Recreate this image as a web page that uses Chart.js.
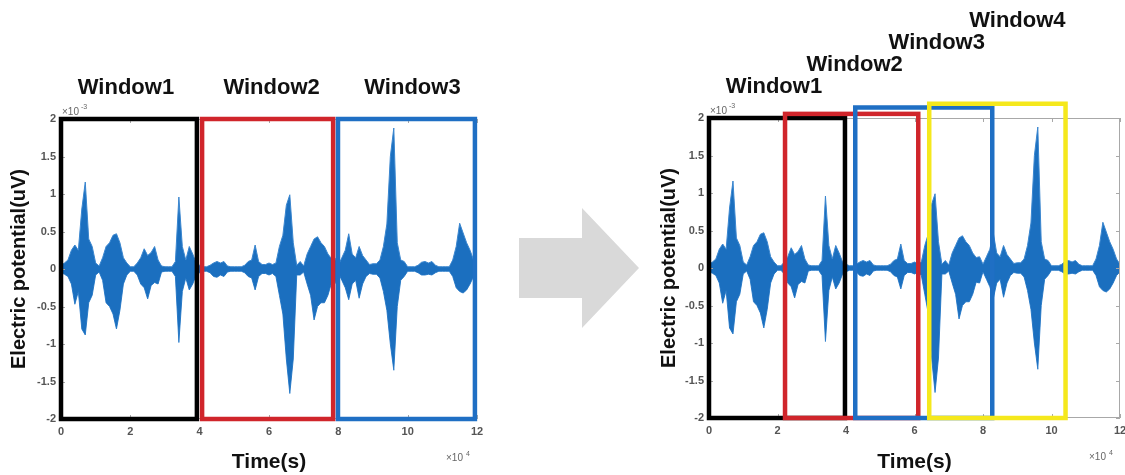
<!DOCTYPE html>
<html lang="en">
<head>
<meta charset="UTF-8">
<title>Signal windows</title>
<script src="https://cdn.jsdelivr.net/npm/chart.js"></script>
<style>
  body { margin: 0; background: #fff; width: 1125px; height: 475px; overflow: hidden; position: relative; }
  .panel { position: absolute; top: 0; }
  #leftPanel { left: 0; }
  #rightPanel { left: 650px; }
  .arrow {
    position: absolute; left: 519px; top: 208px; width: 120px; height: 120px;
    background: #d9d9d9;
    clip-path: polygon(0px 30px, 63px 30px, 63px 0px, 120px 60px, 63px 120px, 63px 90px, 0px 90px);
  }
</style>
</head>
<body>

<div class="panel" id="leftPanel"><canvas id="leftChart" width="500" height="475"></canvas></div>
<div class="arrow"></div>
<div class="panel" id="rightPanel"><canvas id="rightChart" width="475" height="475"></canvas></div>

<script>
// time axis (x 10^4 s)
const time = [
  0.0, 0.1, 0.2, 0.3, 0.4, 0.5, 0.6, 0.7, 0.8, 0.9,
  1.0, 1.1, 1.2, 1.3, 1.4, 1.5, 1.6, 1.7, 1.8, 1.9,
  2.0, 2.1, 2.2, 2.3, 2.4, 2.5, 2.6, 2.7, 2.8, 2.9,
  3.0, 3.1, 3.2, 3.3, 3.4, 3.5, 3.6, 3.7, 3.8, 3.9,
  4.0, 4.1, 4.2, 4.3, 4.4, 4.5, 4.6, 4.7, 4.8, 4.9,
  5.0, 5.1, 5.2, 5.3, 5.4, 5.5, 5.6, 5.7, 5.8, 5.9,
  6.0, 6.1, 6.2, 6.3, 6.4, 6.5, 6.6, 6.7, 6.8, 6.9,
  7.0, 7.1, 7.2, 7.3, 7.4, 7.5, 7.6, 7.7, 7.8, 7.9,
  8.0, 8.1, 8.2, 8.3, 8.4, 8.5, 8.6, 8.7, 8.8, 8.9,
  9.0, 9.1, 9.2, 9.3, 9.4, 9.5, 9.6, 9.7, 9.8, 9.9,
  10.0, 10.1, 10.2, 10.3, 10.4, 10.5, 10.6, 10.7, 10.8, 10.9,
  11.0, 11.1, 11.2, 11.3, 11.4, 11.5, 11.6, 11.7, 11.8, 11.9,
  12.0
];

// upper / lower envelope of the signal (x 10^-3 uV)
const upper = [
  0.05, 0.08, 0.12, 0.25, 0.32, 0.25, 0.80, 1.16, 0.40, 0.30,
  0.08, 0.04, 0.15, 0.30, 0.35, 0.45, 0.47, 0.35, 0.15, 0.08,
  0.03, 0.03, 0.08, 0.15, 0.27, 0.18, 0.22, 0.30, 0.12, 0.04,
  0.03, 0.03, 0.03, 0.10, 0.96, 0.30, 0.12, 0.30, 0.20, 0.08,
  0.05, 0.03, 0.03, 0.05, 0.08, 0.10, 0.08, 0.10, 0.04, 0.03,
  0.03, 0.03, 0.03, 0.05, 0.10, 0.12, 0.32, 0.10, 0.06, 0.06,
  0.08, 0.06, 0.08, 0.30, 0.45, 0.85, 0.99, 0.35, 0.05, 0.10,
  0.04, 0.20, 0.30, 0.40, 0.43, 0.35, 0.30, 0.20, 0.14, 0.15,
  0.05, 0.15, 0.25, 0.47, 0.20, 0.15, 0.30, 0.18, 0.12, 0.06,
  0.07, 0.07, 0.12, 0.30, 0.60, 1.50, 1.88, 0.35, 0.12, 0.10,
  0.03, 0.03, 0.03, 0.05, 0.09, 0.10, 0.08, 0.10, 0.05, 0.03,
  0.03, 0.03, 0.03, 0.12, 0.30, 0.61, 0.48, 0.35, 0.25, 0.12,
  0.05
];
const lower = [
  -0.05, -0.07, -0.10, -0.20, -0.47, -0.30, -0.80, -0.88, -0.45, -0.35,
  -0.08, -0.04, -0.15, -0.45, -0.50, -0.60, -0.80, -0.55, -0.20, -0.08,
  -0.03, -0.03, -0.08, -0.20, -0.25, -0.40, -0.22, -0.18, -0.20, -0.04,
  -0.03, -0.03, -0.03, -0.10, -0.98, -0.30, -0.12, -0.28, -0.20, -0.08,
  -0.05, -0.03, -0.03, -0.05, -0.10, -0.11, -0.08, -0.10, -0.04, -0.03,
  -0.03, -0.03, -0.03, -0.05, -0.10, -0.12, -0.28, -0.10, -0.06, -0.06,
  -0.08, -0.06, -0.10, -0.35, -0.60, -1.20, -1.66, -1.20, -0.08, -0.08,
  -0.04, -0.20, -0.35, -0.68, -0.50, -0.45, -0.45, -0.35, -0.19, -0.20,
  -0.05, -0.15, -0.25, -0.41, -0.20, -0.15, -0.39, -0.20, -0.10, -0.06,
  -0.07, -0.07, -0.12, -0.30, -0.55, -1.00, -1.35, -0.50, -0.15, -0.10,
  -0.03, -0.03, -0.03, -0.05, -0.08, -0.08, -0.07, -0.08, -0.05, -0.03,
  -0.03, -0.03, -0.03, -0.10, -0.25, -0.30, -0.32, -0.28, -0.20, -0.10,
  -0.05
];

// windows, left figure (non-overlapping)
const leftWinNames = ['Window1', 'Window2', 'Window3'];
const leftWinStart = [0, 4.07, 7.99];
const leftWinEnd = [3.92, 7.85, 11.94];
const leftWinTop = [2, 2, 2];

// windows, right figure (overlapping)
const rightWinNames = ['Window1', 'Window2', 'Window3', 'Window4'];
const rightWinStart = [0, 2.22, 4.27, 6.43];
const rightWinEnd = [3.97, 6.11, 8.27, 10.41];
const rightWinTop = [2, 2.055, 2.14, 2.19];

const SIGNAL = '#1b6fbf';
const tickFont = { family: 'Liberation Sans', size: 11, weight: 'bold' };
const tickColor = '#555';

const decor = {
  id: 'decor',
  afterDraw(chart, args, o) {
    const { ctx, chartArea: a, scales: { x, y } } = chart;
    ctx.save();
    // box and inward ticks
    ctx.strokeStyle = '#a8a8a8';
    ctx.lineWidth = 1;
    ctx.strokeRect(a.left + 0.5, a.top + 0.5, a.width - 1, a.height - 1);
    ctx.beginPath();
    x.ticks.forEach(t => {
      const px = Math.round(x.getPixelForValue(t.value)) + 0.5;
      ctx.moveTo(px, a.bottom); ctx.lineTo(px, a.bottom - 4);
      ctx.moveTo(px, a.top); ctx.lineTo(px, a.top + 4);
    });
    y.ticks.forEach(t => {
      const py = Math.round(y.getPixelForValue(t.value)) + 0.5;
      ctx.moveTo(a.left, py); ctx.lineTo(a.left + 4, py);
      ctx.moveTo(a.right, py); ctx.lineTo(a.right - 4, py);
    });
    ctx.stroke();

    // windows
    ctx.lineWidth = 4.5;
    o.starts.forEach((s, i) => {
      const l = x.getPixelForValue(s), r = x.getPixelForValue(o.ends[i]);
      const t = y.getPixelForValue(o.tops[i]), b = y.getPixelForValue(-2);
      ctx.strokeStyle = o.colors[i];
      ctx.strokeRect(l, t, r - l, b - t);
    });

    // window titles
    ctx.fillStyle = '#111';
    ctx.font = 'bold 22px "Liberation Sans", Arial, sans-serif';
    ctx.textAlign = 'center';
    ctx.textBaseline = 'middle';
    o.names.forEach((n, i) => {
      const cx = (x.getPixelForValue(o.starts[i]) + x.getPixelForValue(o.ends[i])) / 2 + o.labelDx[i];
      ctx.fillText(n, cx, o.labelY[i]);
    });

    // axis multipliers
    ctx.fillStyle = '#666';
    ctx.textAlign = 'left';
    ctx.font = '10px "Liberation Sans", Arial, sans-serif';
    ctx.fillText('\u00d710', a.left + 1, a.top - 7);
    ctx.fillText('\u00d710', a.right - 31, a.bottom + 39);
    ctx.font = '7px "Liberation Sans", Arial, sans-serif';
    ctx.fillText('-3', a.left + 20, a.top - 12);
    ctx.fillText('4', a.right - 11, a.bottom + 35);
    ctx.restore();
  }
};

function makeChart(id, pad, yWidth, xHeight, win) {
  const pts = arr => time.map((t, i) => ({ x: t, y: arr[i] }));
  return new Chart(document.getElementById(id), {
    type: 'line',
    data: {
      datasets: [
        { data: pts(upper), fill: '+1', backgroundColor: SIGNAL, borderColor: '#3a86cf', borderWidth: 1, pointRadius: 0, tension: 0 },
        { data: pts(lower), fill: false, borderColor: '#3a86cf', borderWidth: 1, pointRadius: 0, tension: 0 }
      ]
    },
    options: {
      responsive: false,
      animation: false,
      devicePixelRatio: 1,
      layout: { padding: pad },
      plugins: { legend: { display: false }, tooltip: { enabled: false }, decor: win },
      scales: {
        x: {
          type: 'linear', min: 0, max: 12,
          ticks: { stepSize: 2, padding: 6, font: tickFont, color: tickColor, maxRotation: 0 },
          grid: { display: false, drawTicks: false },
          border: { display: false },
          title: { display: true, text: 'Time(s)', color: '#111', font: { family: 'Liberation Sans', size: 21, weight: 'bold' }, padding: { top: 0, bottom: 0 } },
          afterFit: s => { s.height = xHeight; s.paddingLeft = 0; s.paddingRight = 0; }
        },
        y: {
          min: -2, max: 2,
          ticks: { stepSize: 0.5, padding: 5, font: tickFont, color: tickColor, callback: v => String(v) },
          grid: { display: false, drawTicks: false },
          border: { display: false },
          title: { display: true, text: 'Electric potential(uV)', color: '#111', font: { family: 'Liberation Sans', size: 20, weight: 'bold' }, padding: { top: 7, bottom: 0 } },
          afterFit: s => { s.width = yWidth; s.paddingTop = 0; s.paddingBottom = 0; }
        }
      }
    },
    plugins: [decor]
  });
}

makeChart('leftChart', { top: 119, right: 23, left: 0, bottom: 0 }, 61, 56, {
  names: leftWinNames, starts: leftWinStart, ends: leftWinEnd, tops: leftWinTop,
  colors: ['#000000', '#d0252b', '#1f6fc4'],
  labelDx: [-3, 4, 6], labelY: [88, 88, 88]
});

makeChart('rightChart', { top: 118, right: 5, left: 0, bottom: 0 }, 59, 57, {
  names: rightWinNames, starts: rightWinStart, ends: rightWinEnd, tops: rightWinTop,
  colors: ['#000000', '#d0252b', '#1f6fc4', '#f5e81c'],
  labelDx: [-3, 3, 13, 20], labelY: [87, 65, 43, 21]
});
</script>
</body>
</html>
